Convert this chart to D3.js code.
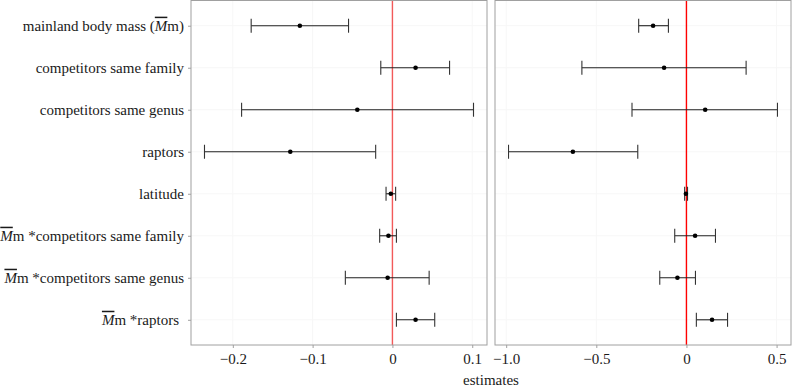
<!DOCTYPE html>
<html>
<head>
<meta charset="utf-8">
<script src="https://cdn.jsdelivr.net/npm/d3@7"></script>
<style>
  body { margin: 0; background: #fff; }
  svg text { font-family: "Liberation Serif", "Times New Roman", Times, serif; }
</style>
</head>
<body>
<div id="chart"></div>
<script>
/* forest plot of model estimates, two panels */

const terms = ["mainland body mass", "competitors same family", "competitors same genus", "raptors",
               "latitude", "competitors same family", "competitors same genus", "raptors"];
const interaction = [false, false, false, false, false, true, true, true];

const leftEst = [-0.116, 0.029, -0.044, -0.128, -0.002, -0.005, -0.006, 0.029];
const leftLo  = [-0.177, -0.0146, -0.189, -0.2355, -0.008, -0.016, -0.059, 0.005];
const leftHi  = [-0.055, 0.0716, 0.1016, -0.021, 0.004, 0.005, 0.046, 0.053];

const rightEst = [-0.185, -0.124, 0.104, -0.63, -0.003, 0.048, -0.05, 0.142];
const rightLo  = [-0.265, -0.58, -0.302, -0.987, -0.01, -0.065, -0.148, 0.055];
const rightHi  = [-0.10, 0.331, 0.505, -0.27, 0.006, 0.161, 0.05, 0.228];

const leftTicks = [-0.2, -0.1, 0, 0.1];
const rightTicks = [-1.0, -0.5, 0, 0.5];
const leftTickLabels = ["\u22120.2", "\u22120.1", "0", "0.1"];
const rightTickLabels = ["\u22121.0", "\u22120.5", "0", "0.5"];

const width = 792, height = 387;
const panelTop = 0.5, panelBottom = 345;
const serif = "Liberation Serif";
const fontSize = 15;

let svg = d3.select("#chart")
    .append("svg")
    .attr("width", width)
    .attr("height", height);

/* shared discrete y scale */
const y = d3.scalePoint()
    .domain(d3.range(terms.length))
    .range([panelTop, panelBottom])
    .padding(0.6);

const panels = [
    { x0: 191, x1: 487, domain: [-0.2524, 0.1185], est: leftEst, lo: leftLo, hi: leftHi, ticks: leftTicks, labels: leftTickLabels, zero: "#f25a5a" },
    { x0: 495, x1: 791, domain: [-1.062, 0.580], est: rightEst, lo: rightLo, hi: rightHi, ticks: rightTicks, labels: rightTickLabels, zero: "#ff0000" }
];

panels.forEach(p => {
    const x = d3.scaleLinear().domain(p.domain).range([p.x0, p.x1]);
    const g = svg.append("g");

    // faint grid
    g.selectAll(".vg").data(p.ticks).join("line")
        .attr("x1", d => x(d)).attr("x2", d => x(d))
        .attr("y1", panelTop).attr("y2", panelBottom)
        .attr("stroke", "#f7f7f7");
    g.selectAll(".hg").data(d3.range(terms.length)).join("line")
        .attr("x1", p.x0).attr("x2", p.x1)
        .attr("y1", d => y(d)).attr("y2", d => y(d))
        .attr("stroke", "#f7f7f7");

    // zero line
    g.append("line")
        .attr("x1", x(0)).attr("x2", x(0))
        .attr("y1", panelTop).attr("y2", panelBottom)
        .attr("stroke", p.zero).attr("stroke-width", 1.4);

    // error bars
    const bars = g.selectAll(".bar").data(d3.range(terms.length)).join("g");
    bars.append("line")
        .attr("x1", i => x(p.lo[i])).attr("x2", i => x(p.hi[i]))
        .attr("y1", i => y(i)).attr("y2", i => y(i))
        .attr("stroke", "#222").attr("stroke-width", 1.1);
    bars.append("line")
        .attr("x1", i => x(p.lo[i])).attr("x2", i => x(p.lo[i]))
        .attr("y1", i => y(i) - 7).attr("y2", i => y(i) + 7)
        .attr("stroke", "#333").attr("stroke-width", 1.1);
    bars.append("line")
        .attr("x1", i => x(p.hi[i])).attr("x2", i => x(p.hi[i]))
        .attr("y1", i => y(i) - 7).attr("y2", i => y(i) + 7)
        .attr("stroke", "#333").attr("stroke-width", 1.1);
    bars.append("circle")
        .attr("cx", i => x(p.est[i])).attr("cy", i => y(i))
        .attr("r", 2.3).attr("fill", "#000");

    // panel border
    g.append("rect")
        .attr("x", p.x0).attr("y", panelTop)
        .attr("width", p.x1 - p.x0).attr("height", panelBottom - panelTop)
        .attr("fill", "none").attr("stroke", "#a0a0a0").attr("stroke-width", 1);

    // x axis
    const xAxis = d3.axisBottom(x)
        .tickValues(p.ticks)
        .tickFormat((d, i) => p.labels[i])
        .tickSize(3)
        .tickPadding(5);
    const ax = svg.append("g")
        .attr("transform", `translate(0, ${panelBottom})`)
        .call(xAxis)
        .attr("font-family", serif)
        .attr("font-size", fontSize);
    ax.select(".domain").remove();
    ax.selectAll(".tick line").attr("stroke", "#a0a0a0");
    ax.selectAll(".tick text").attr("fill", "#1a1a1a");
});

/* y axis ticks */
const yAxis = d3.axisLeft(y).tickSize(3).tickPadding(4).tickFormat("");
const yg = svg.append("g")
    .attr("transform", "translate(191, 0)")
    .call(yAxis);
yg.select(".domain").remove();
yg.selectAll(".tick line").attr("stroke", "#a0a0a0");

/* row labels */
const lab = svg.append("g")
    .attr("font-family", serif)
    .attr("font-size", fontSize)
    .selectAll("text")
    .data(d3.range(terms.length))
    .join("text")
    .attr("x", i => i === 7 ? 179 : 184)
    .attr("y", i => y(i))
    .attr("dy", "0.33em")
    .attr("text-anchor", "end")
    .attr("fill", "#1a1a1a");

lab.each(function(i) {
    const t = d3.select(this);
    if (i === 0) {
        t.append("tspan").text(terms[i] + " (");
        t.append("tspan").text("M").style("font-style", "italic").style("text-decoration", "overline");
        t.append("tspan").text("m)");
    } else if (interaction[i]) {
        t.append("tspan").text("M").style("font-style", "italic").style("text-decoration", "overline");
        t.append("tspan").text("m *" + terms[i]);
    } else {
        t.text(terms[i]);
    }
});

/* axis title */
svg.append("text")
    .attr("x", 491)
    .attr("y", 385)
    .attr("text-anchor", "middle")
    .attr("font-family", serif)
    .attr("font-size", fontSize)
    .attr("fill", "#1a1a1a")
    .text("estimates");
</script>
</body>
</html>
